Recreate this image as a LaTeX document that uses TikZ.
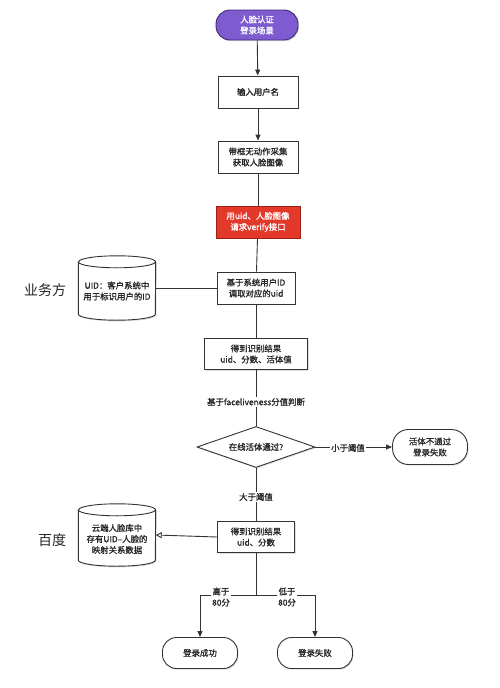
\documentclass[tikz,border=0pt]{standalone}
\usepackage{fontspec}
\newfontfamily\cjk[FakeBold=1.2]{Noto Sans CJK SC}
\newfontfamily\cjkr{Noto Sans CJK SC}
\usetikzlibrary{shapes.geometric,shadows,arrows.meta}
\definecolor{lineg}{HTML}{333333}
\definecolor{purp}{HTML}{7E5CCF}
\definecolor{purpd}{HTML}{3B2A70}
\definecolor{redf}{HTML}{E2392B}
\definecolor{redd}{HTML}{9A2016}
\tikzset{
  txt/.style={font=\cjk\fontsize{8.4}{11}\selectfont, align=center, text=black!85},
  box/.style={txt, draw=lineg, line width=0.9pt, fill=white, inner sep=0pt,
    minimum width=80pt, minimum height=32pt,
    drop shadow={shadow xshift=1pt, shadow yshift=-1.2pt, opacity=0.25}},
  pill/.style={txt, draw=lineg, line width=0.9pt, fill=white, rounded corners=14pt, inner sep=0pt,
    minimum width=75pt, minimum height=31pt,
    drop shadow={shadow xshift=1pt, shadow yshift=-1.2pt, opacity=0.25}},
  conn/.style={draw=lineg, line width=0.9pt},
  arr/.style={conn, -{Triangle[length=6pt,width=5pt]}},
  harr/.style={conn, -{Triangle[open,length=6pt,width=6pt]}},
  elab/.style={txt, fill=white, inner sep=1.5pt},
  side/.style={font=\cjkr\fontsize{14}{16}\selectfont, text=black!85},
}
\begin{document}
\begin{tikzpicture}[x=1pt,y=-1pt]
\useasboundingbox (0,0) rectangle (500,688);
\fill[white] (0,0) rectangle (500,688);

% nodes
\node[pill, fill=purp, draw=purpd, text=white, minimum width=82pt, minimum height=30pt] (start) at (257,25) {人脸认证\\登录场景};
\node[box] (b1) at (258,92) {输入用户名};
\node[box] (b2) at (258,157) {带框无动作采集\\获取人脸图像};
\node[box, fill=redf, draw=redd, text=white, minimum width=84pt] (b3) at (258,222) {用uid、人脸图像\\请求verify接口};
\node[box, minimum width=78pt] (b4) at (256,288) {基于系统用户ID\\调取对应的uid};
\node[box, minimum width=103pt, minimum height=31pt] (b5) at (256,354) {得到识别结果\\uid、分数、活体值};
\node[elab] (l1) at (256,402) {基于faceliveness分值判断};
\node[txt, diamond, draw=lineg, line width=0.9pt, fill=white, inner sep=0pt, minimum width=118pt, minimum height=41pt, aspect=2.9,
  drop shadow={shadow xshift=1pt, shadow yshift=-1.2pt, opacity=0.25}] (d) at (256,447) {在线活体通过?};
\node[pill, minimum width=75pt, minimum height=35pt, rounded corners=16pt] (fail1) at (430,447) {活体不通过\\登录失败};
\node[elab] (l2) at (348,448) {小于阈值};
\node[elab] (l3) at (256,497) {大于阈值};
\node[box, minimum width=77pt, minimum height=31pt] (b6) at (256,537) {得到识别结果\\uid、分数};
\node[pill] (ok) at (200,653) {登录成功};
\node[pill] (fail2) at (315,653) {登录失败};
\coordinate (split) at (256,595);
\coordinate (sl) at (200,595);
\coordinate (sr) at (315,595);

% cylinders
\node[inner sep=0, minimum width=77pt, minimum height=64pt] (db1) at (117,288) {};
\node[inner sep=0, minimum width=77pt, minimum height=62pt] (db2) at (117,535) {};
\foreach \c in {db1,db2}{
  \draw[conn, fill=white, drop shadow={shadow xshift=1pt, shadow yshift=-1.2pt, opacity=0.25}]
    ([yshift=-6pt]\c.north west) -- ([yshift=6pt]\c.south west)
    arc[start angle=180, end angle=360, x radius=38.5pt, y radius=6pt]
    -- ([yshift=-6pt]\c.north east)
    arc[start angle=0, end angle=180, x radius=38.5pt, y radius=6pt] -- cycle;
  \draw[conn] ([yshift=-6pt]\c.north west) arc[start angle=180, end angle=360, x radius=38.5pt, y radius=6pt];
}
\node[txt] (db1t) at (117,291) {UID：客户系统中\\用于标识用户的ID};
\node[txt] (db2t) at (117,539) {云端人脸库中\\存有UID–人脸的\\映射关系数据};
\node[side] (s1) at (45,290) {业务方};
\node[side] (s2) at (52,540) {百度};

% connectors
\draw[arr] (start) -- (b1);
\draw[arr] (b1) -- (b2);
\draw[conn] (b2) -- (b3);
\draw[conn] (b3) -- (b4);
\draw[conn] (b4) -- (b5);
\draw[conn] (db1.east) -- (b4.west);
\draw[conn] (b5) -- (d);
\draw[arr] (d.east) -- (fail1.west);
\draw[conn] (d) -- (b6);
\draw[harr] (b6.west) -- (db2.east);
\draw[conn] (b6.south) -- (split);
\draw[arr] (split) -- (sl) -- (ok.north);
\draw[arr] (split) -- (sr) -- (fail2.north);

% labels on top
\node[elab] at (l1) {基于faceliveness分值判断};
\node[elab] at (l2) {小于阈值};
\node[elab] at (l3) {大于阈值};
\node[elab, inner sep=1pt] (hl) at (221,597) {高于\\80分};
\node[elab, inner sep=1pt] (hr) at (287,597) {低于\\80分};
\end{tikzpicture}
\end{document}
